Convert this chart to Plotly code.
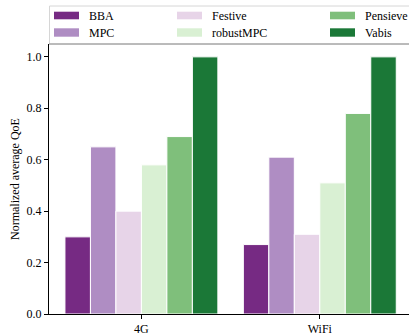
import plotly.graph_objects as go

categories = ["4G", "WiFi"]
methods = ["BBA", "MPC", "Festive", "robustMPC", "Pensieve", "Vabis"]
values = {
    "BBA": [0.30, 0.27],
    "MPC": [0.65, 0.61],
    "Festive": [0.40, 0.31],
    "robustMPC": [0.58, 0.51],
    "Pensieve": [0.69, 0.78],
    "Vabis": [1.00, 1.00],
}
colors = ["#762a83", "#af8dc3", "#e7d4e8", "#d9f0d3", "#7fbf7b", "#1b7837"]
y_ticks = [0.0, 0.2, 0.4, 0.6, 0.8, 1.0]
y_title = "Normalized average QoE"

FONT = "Liberation Serif"
W, H = 409, 335
L, R, T, B = 49, 0, 44, 21
PW, PH = W - L - R, H - T - B


def px_x(px):
    return (px - L) / PW


def px_y(py):
    return (H - B - py) / PH


fig = go.Figure()
for m, c in zip(methods, colors):
    fig.add_trace(go.Bar(
        x=categories, y=values[m], name=m,
        marker=dict(color=c, line=dict(color="white", width=1)),
        showlegend=False,
    ))

shapes = []
annotations = []

# legend frame
shapes.append(dict(type="rect", xref="paper", yref="paper",
                   x0=px_x(49.5), x1=px_x(416), y0=px_y(44), y1=px_y(6),
                   line=dict(color="#d6d6d6", width=1), fillcolor="white", layer="above"))
# top spine (seen through the legend frame)
shapes.append(dict(type="line", xref="paper", yref="paper",
                   x0=0, x1=1, y0=1, y1=1,
                   line=dict(color="#8a8a8a", width=1), layer="above"))

col_patch_x = [54, 177, 330]
row_patch_y = [(11.7, 19.3), (28.3, 36.7)]
for i, (m, c) in enumerate(zip(methods, colors)):
    col, row = i // 2, i % 2
    x0 = col_patch_x[col]
    y0, y1 = row_patch_y[row]
    shapes.append(dict(type="rect", xref="paper", yref="paper",
                       x0=px_x(x0), x1=px_x(x0 + 25), y0=px_y(y1), y1=px_y(y0),
                       line=dict(width=0), fillcolor=c, layer="above"))
    annotations.append(dict(xref="paper", yref="paper",
                            x=px_x(x0 + 33), y=px_y((y0 + y1) / 2 + 0.5),
                            text=m, showarrow=False, xanchor="left", yanchor="middle",
                            font=dict(family=FONT, size=12, color="black")))

annotations.append(dict(xref="paper", yref="paper", x=px_x(15), y=0.5,
                        text=y_title, textangle=-90, showarrow=False,
                        xanchor="center", yanchor="middle",
                        font=dict(family=FONT, size=12, color="black")))

fig.update_layout(
    width=W, height=H,
    margin=dict(l=L, r=R, t=T, b=B, pad=0),
    paper_bgcolor="white", plot_bgcolor="white",
    barmode="group", bargap=1 / 7, bargroupgap=0,
    font=dict(family=FONT, size=12, color="black"),
    shapes=shapes, annotations=annotations,
    xaxis=dict(range=[-0.518, 1.5], showline=True, linecolor="black", linewidth=1,
               ticks="outside", ticklen=4, tickcolor="black", tickwidth=1,
               showgrid=False, zeroline=False, automargin=False,
               tickfont=dict(family=FONT, size=12, color="black")),
    yaxis=dict(range=[0, 1.05], tickvals=y_ticks, tickformat=".1f",
               showline=True, linecolor="black", linewidth=1,
               ticks="outside", ticklen=4, tickcolor="black", tickwidth=1,
               showgrid=False, zeroline=False, automargin=False,
               tickfont=dict(family=FONT, size=12, color="black")),
)

fig.write_html("out.html",
               config={"displayModeBar": False},
               post_script="document.body.style.margin='0';document.body.style.overflow='hidden';")
